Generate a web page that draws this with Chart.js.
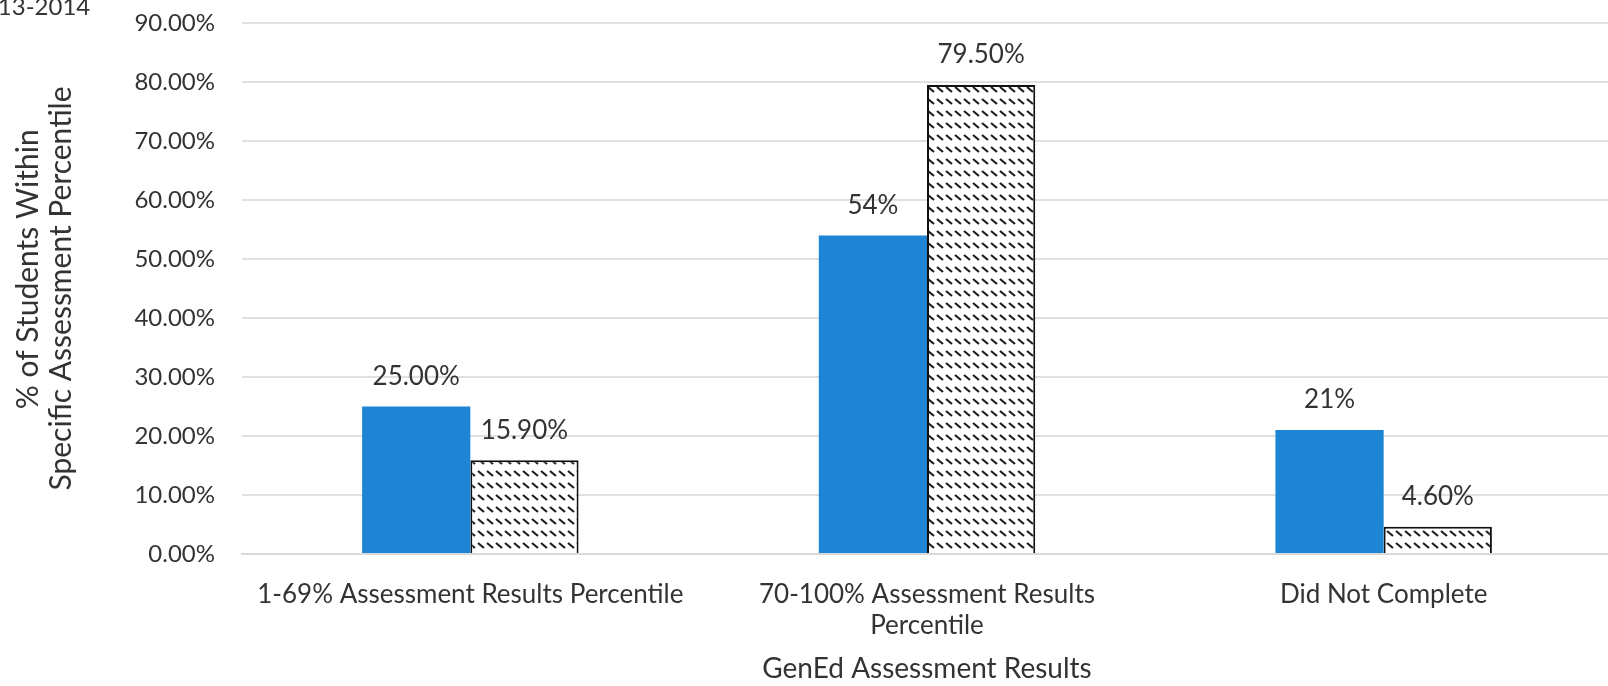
<!DOCTYPE html>
<html>
<head>
<meta charset="utf-8">
<script src="https://cdn.jsdelivr.net/npm/chart.js@4/dist/chart.umd.min.js"></script>
<style>
  html, body { margin: 0; padding: 0; background: #fff; overflow: hidden; }
  #wrap { position: relative; width: 1612px; height: 686px; }
  #year { position: absolute; left: -30px; top: -6px; font: 24px Lato, sans-serif; line-height: 24px; color: #333; white-space: nowrap; }
</style>
</head>
<body>
<div id="wrap">
  <canvas id="chart" width="1612" height="686"></canvas>
  <div id="year">2013-2014</div>
</div>
<script>
// data
const categories = ['1-69% Assessment Results Percentile', ['70-100% Assessment Results', 'Percentile'], 'Did Not Complete'];
const seriesA = [25, 54, 21];
const seriesB = [15.9, 79.5, 4.6];
const labelsA = ['25.00%', '54%', '21%'];
const labelsB = ['15.90%', '79.50%', '4.60%'];
const yTicks = [0, 10, 20, 30, 40, 50, 60, 70, 80, 90];

const textColor = '#333333';
const fontFamily = 'Lato, sans-serif';

// diagonal dash hatch
function hatch() {
  const c = document.createElement('canvas');
  c.width = 9; c.height = 12;
  const g = c.getContext('2d');
  g.fillStyle = '#fff';
  g.fillRect(0, 0, 9, 12);
  g.strokeStyle = '#1e1e1e';
  g.lineWidth = 2.2;
  g.beginPath();
  g.moveTo(1, 3);
  g.lineTo(7, 8);
  g.stroke();
  return g.createPattern(c, 'repeat');
}

// value labels above bars
const barLabels = {
  id: 'barLabels',
  afterDatasetsDraw(chart) {
    const ctx = chart.ctx;
    ctx.save();
    ctx.font = '26px ' + fontFamily;
    ctx.fillStyle = textColor;
    ctx.textAlign = 'center';
    ctx.textBaseline = 'middle';
    chart.data.datasets.forEach((ds, i) => {
      chart.getDatasetMeta(i).data.forEach((bar, j) => {
        ctx.fillText(ds.valueLabels[j], bar.x, bar.y - 30);
      });
    });
    ctx.restore();
  }
};

const ctx = document.getElementById('chart').getContext('2d');
new Chart(ctx, {
  type: 'bar',
  data: {
    labels: categories,
    datasets: [
      {
        label: 'Series 1',
        data: seriesA,
        valueLabels: labelsA,
        backgroundColor: '#1e85d5',
        borderWidth: 0
      },
      {
        label: 'Series 2',
        data: seriesB,
        valueLabels: labelsB,
        backgroundColor: hatch(),
        borderColor: '#111',
        borderWidth: 2,
        borderSkipped: 'bottom'
      }
    ]
  },
  options: {
    responsive: false,
    animation: false,
    layout: { padding: { top: 23, right: 0, bottom: 0, left: 0 } },
    plugins: { legend: { display: false }, tooltip: { enabled: false } },
    datasets: { bar: { categoryPercentage: 0.474, barPercentage: 1 } },
    scales: {
      x: {
        grid: { display: false, drawTicks: false },
        border: { display: true, color: '#d9d9d9', width: 2 },
        ticks: {
          color: textColor,
          font: { family: fontFamily, size: 26 },
          padding: 25,
          autoSkip: false,
          maxRotation: 0
        },
        title: {
          display: true,
          text: 'GenEd Assessment Results',
          color: textColor,
          font: { family: fontFamily, size: 28 },
          padding: { top: -14, bottom: 0 }
        }
      },
      y: {
        min: 0,
        max: 90,
        afterBuildTicks(scale) {
          scale.ticks = yTicks.map(v => ({ value: v }));
        },
        afterFit(scale) {
          scale.width = 242;
          scale.paddingTop = 0;
          scale.paddingBottom = 0;
        },
        grid: { color: '#e0e0e0', lineWidth: 2, drawTicks: false },
        border: { display: false },
        ticks: {
          color: textColor,
          font: { family: fontFamily, size: 24 },
          padding: 27,
          callback: v => v.toFixed(2) + '%'
        },
        title: {
          display: true,
          text: ['     % of Students Within', 'Specific Assessment Percentile'],
          color: textColor,
          font: { family: fontFamily, size: 30, lineHeight: 1.1 },
          padding: { top: 12, bottom: 0 }
        }
      }
    }
  },
  plugins: [barLabels]
});
</script>
</body>
</html>
